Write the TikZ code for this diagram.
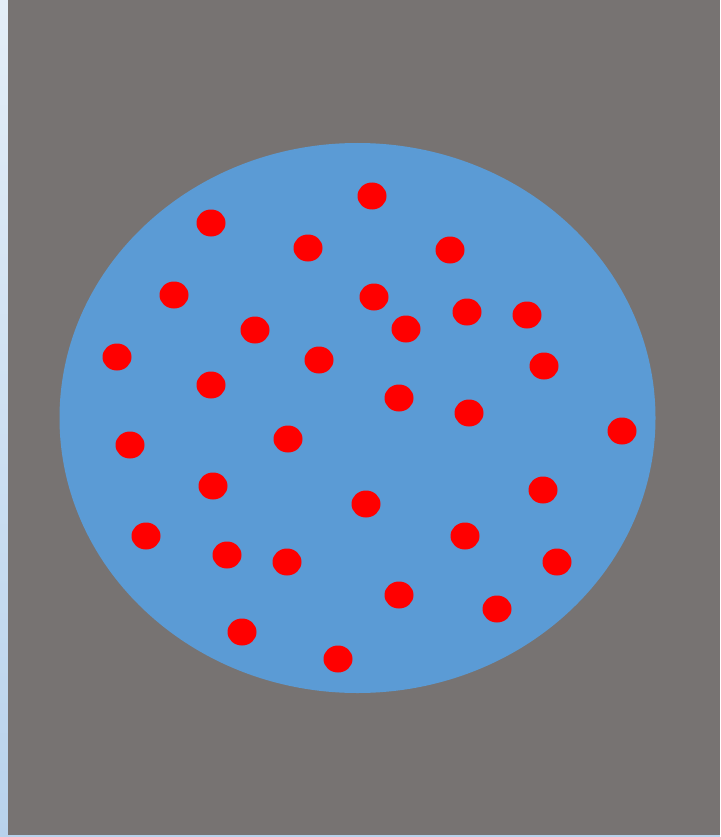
\documentclass[tikz,border=0pt]{standalone}
\begin{document}
\begin{tikzpicture}[x=1pt,y=-1pt]
\definecolor{bggray}{RGB}{119,115,114}
\definecolor{lakeblue}{RGB}{91,155,213}
\definecolor{stripA}{RGB}{228,238,248}
\definecolor{stripB}{RGB}{184,210,236}
\tikzset{dot/.style={fill=red,draw=none}}
\useasboundingbox (0,0) rectangle (720,837);
\fill[stripB] (0,0) rectangle (720,837);
\shade[top color=stripA,bottom color=stripB] (0,0) rectangle (8,837);
\fill[bggray] (8,0) rectangle (720,835);
\fill[lakeblue] (357.5,418) ellipse [x radius=298, y radius=275];
\foreach \x/\y in {372/196,211/223,308/248,450/250,174/295,374/297,255/330,406/329,467/312,527/315,117/357,319/360,544/366,211/385,399/398,469/413,622/431,130/445,288/439,213/486,366/504,543/490,146/536,227/555,287/562,465/536,557/562,399/595,497/609,242/632,338/659}
  \fill[dot] (\x,\y) ellipse [x radius=14.5, y radius=13.5];
\end{tikzpicture}
\end{document}
